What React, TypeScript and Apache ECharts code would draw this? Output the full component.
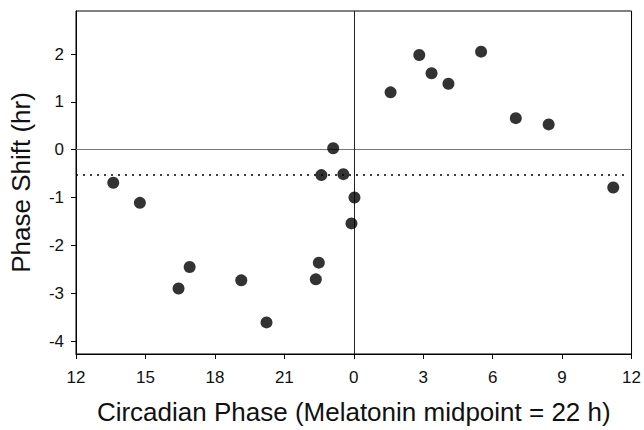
import React, { useEffect, useRef } from "react";
import * as echarts from "echarts";

const phaseHours = [-10.39, -9.24, -7.57, -7.09, -4.86, -3.77, -1.64, -1.51, -1.4, -0.89, -0.45, -0.1, 0.03, 1.59, 2.83, 3.36, 4.09, 5.5, 7.0, 8.42, 11.21];
const phaseShifts = [-0.69, -1.11, -2.9, -2.45, -2.73, -3.61, -2.71, -2.36, -0.53, 0.03, -0.51, -1.54, -1.0, 1.2, 1.98, 1.6, 1.38, 2.05, 0.66, 0.53, -0.79];
const yTicks = [-4, -3, -2, -1, 0, 1, 2];
const meanShift = -0.52;
const dottedEnd = 11.75;

export default function App() {
  const ref = useRef<HTMLDivElement>(null);
  useEffect(() => {
    if (!ref.current) return;
    const chart = echarts.init(ref.current, null, { renderer: "svg" });
    const font = "'Liberation Sans', Arial, sans-serif";
    chart.setOption({
      animation: false,
      backgroundColor: "#fff",
      grid: {
        left: 76,
        right: 11,
        top: 11,
        bottom: 74,
        show: true,
        borderColor: "#000",
        borderWidth: 1,
      },
      xAxis: {
        type: "value",
        min: -12,
        max: 12,
        interval: 3,
        name: "Circadian Phase (Melatonin midpoint = 22 h)",
        nameLocation: "middle",
        nameGap: 45,
        nameTextStyle: { fontFamily: font, fontSize: 26, color: "#111" },
        axisLine: { show: true, onZero: false, lineStyle: { color: "#000", width: 1 } },
        axisTick: { show: true, inside: false, length: 5, lineStyle: { color: "#000" } },
        axisLabel: {
          fontFamily: font,
          fontSize: 17,
          color: "#111",
          margin: 15,
          formatter: (v: number) => String((v + 24) % 24),
        },
        splitLine: { show: false },
      },
      yAxis: {
        type: "value",
        min: -4.27,
        max: 2.9,
        name: "Phase Shift (hr)",
        nameLocation: "middle",
        nameGap: 42,
        nameTextStyle: { fontFamily: font, fontSize: 26, color: "#111" },
        axisLine: { show: true, onZero: false, lineStyle: { color: "#000", width: 1 } },
        axisTick: { show: true, inside: false, length: 5, customValues: yTicks, lineStyle: { color: "#000" } },
        axisLabel: {
          fontFamily: font,
          fontSize: 17,
          color: "#111",
          margin: 12,
          customValues: yTicks,
        },
        splitLine: { show: false },
      },
      series: [
        {
          type: "scatter",
          data: phaseHours.map((h, i) => [h, phaseShifts[i]]),
          symbol: "circle",
          symbolSize: 12,
          itemStyle: { color: "#000" },
          z: 5,
          markLine: {
            silent: true,
            symbol: "none",
            label: { show: false },
            data: [
              { yAxis: 0, lineStyle: { color: "#777", width: 1, type: "solid" } },
              { xAxis: 0, lineStyle: { color: "#222", width: 1, type: "solid" } },
              [
                { coord: [-12, meanShift], lineStyle: { color: "#000", width: 1.5, type: [2, 5] } },
                { coord: [dottedEnd, meanShift] },
              ],
            ],
          },
        },
      ],
    });
    return () => chart.dispose();
  }, []);
  return <div ref={ref} style={{ width: 644, height: 430, position: "absolute", left: 0, top: 0 }} />;
}
